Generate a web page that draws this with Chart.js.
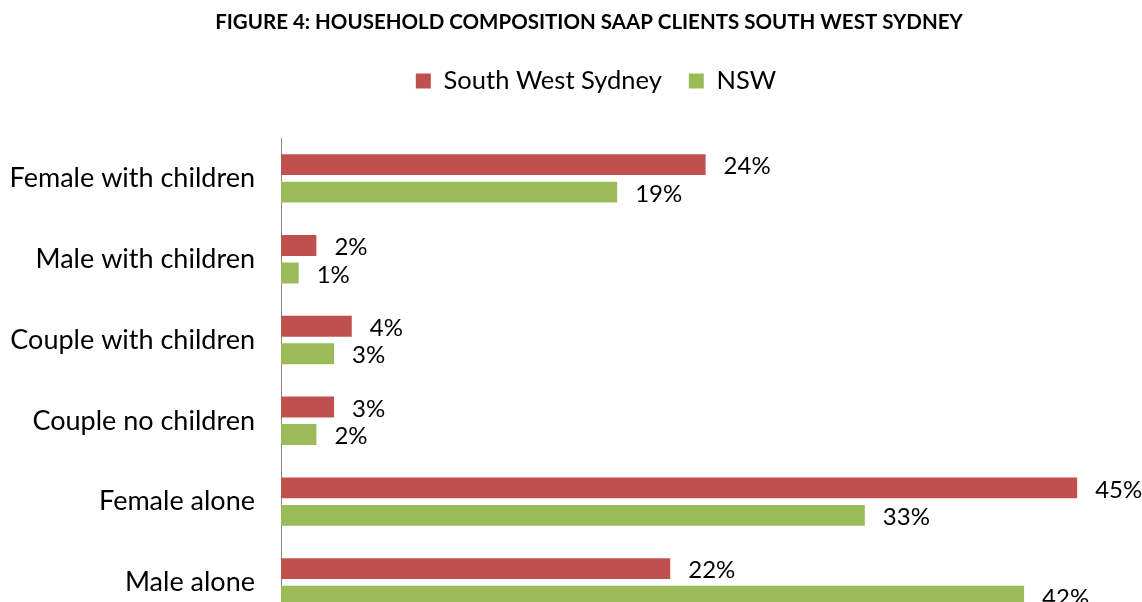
<!DOCTYPE html>
<html>
<head>
<meta charset="utf-8">
<title>Household composition SAAP clients</title>
<script src="https://cdn.jsdelivr.net/npm/chart.js@4.4.1/dist/chart.umd.min.js"></script>
<style>
  html, body { margin: 0; padding: 0; background: #fff; overflow: hidden; }
  #wrap { width: 1178px; height: 665px; }
</style>
</head>
<body>
<div id="wrap"><canvas id="my-chart" width="1178" height="665"></canvas></div>
<script>
"use strict";
const categories = [
  "Female with children",
  "Male with children",
  "Couple with children",
  "Couple no children",
  "Female alone",
  "Male alone",
];
const southWestSydney = [24, 2, 4, 3, 45, 22];
const nsw = [19, 1, 3, 2, 33, 42];
const seriesNames = ["South West Sydney", "NSW"];

const FONT = "Lato, 'Open Sans', sans-serif";

// draws the "24%" style labels at the end of each bar
const barValueLabels = {
  id: "barValueLabels",
  afterDatasetsDraw(chart) {
    const ctx = chart.ctx;
    ctx.save();
    ctx.font = "24px " + FONT;
    ctx.fillStyle = "#000";
    ctx.textAlign = "left";
    ctx.textBaseline = "middle";
    chart.data.datasets.forEach((ds, i) => {
      const meta = chart.getDatasetMeta(i);
      meta.data.forEach((bar, j) => {
        ctx.fillText(ds.data[j] + "%", bar.x + 18, bar.y + 2);
      });
    });
    ctx.restore();
  },
};

// legend gets a fixed height so the plot starts where the original does,
// and sits a little right of the title like in the original
const legendTweak = {
  id: "legendTweak",
  beforeInit(chart) {
    const legend = chart.legend;
    const fit = legend.fit;
    const draw = legend.draw;
    legend.fit = function () {
      fit.call(this);
      this.height = 96.75;
    };
    legend.draw = function () {
      this.ctx.save();
      this.ctx.translate(7, 0);
      draw.call(this);
      this.ctx.restore();
    };
  },
};

const ctx = document.getElementById("my-chart");
const myChart = new Chart(ctx, {
  type: "bar",
  data: {
    labels: categories,
    datasets: [
      {
        label: seriesNames[0],
        data: southWestSydney,
        backgroundColor: "#C0504D",
        categoryPercentage: 0.68,
        barPercentage: 0.76,
      },
      {
        label: seriesNames[1],
        data: nsw,
        backgroundColor: "#9BBB59",
        categoryPercentage: 0.68,
        barPercentage: 0.76,
      },
    ],
  },
  options: {
    indexAxis: "y",
    responsive: false,
    animation: false,
    devicePixelRatio: 1,
    layout: { padding: { left: 0, right: 0, top: 0, bottom: 15 } },
    scales: {
      x: {
        display: false,
        min: 0,
        max: 50.7,
      },
      y: {
        grid: { display: false, drawTicks: false },
        border: { display: true, color: "#868686", width: 1 },
        ticks: {
          color: "#000",
          padding: 26,
          font: { family: FONT, size: 27 },
        },
        afterFit(scale) {
          scale.width = 281;
        },
      },
    },
    plugins: {
      title: {
        display: true,
        text: "FIGURE 4: HOUSEHOLD COMPOSITION SAAP CLIENTS SOUTH WEST SYDNEY",
        color: "#000",
        font: { family: FONT, size: 20.5, weight: "bold" },
        padding: { top: 10, bottom: 6.65 },
      },
      legend: {
        display: true,
        labels: {
          color: "#000",
          boxWidth: 15,
          boxHeight: 15,
          padding: 27,
          font: { family: FONT, size: 25.5 },
        },
      },
      tooltip: { enabled: false },
    },
  },
  plugins: [barValueLabels, legendTweak],
});
</script>
</body>
</html>
